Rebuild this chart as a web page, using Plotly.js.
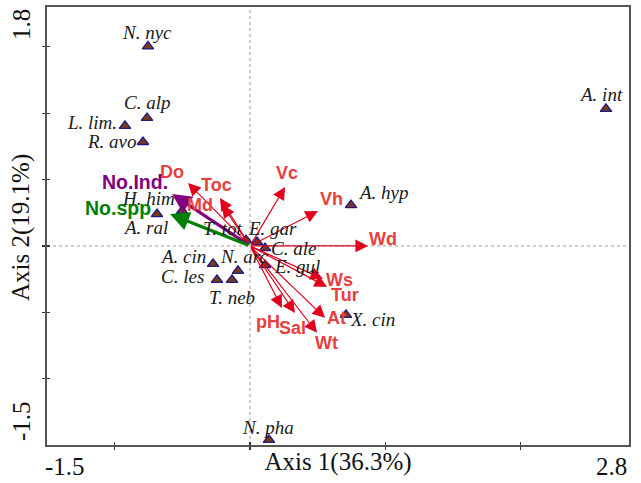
<!DOCTYPE html>
<html>
<head>
<meta charset="utf-8">
<script src="https://cdn.plot.ly/plotly-3.0.1.min.js"></script>
<style>html,body{margin:0;padding:0;background:#fff;}#chart{width:641px;height:483px;}</style>
</head>
<body>
<div id="chart"></div>
<script>
// ---- data ----
const speciesNames = ['N. nyc','C. alp','L. lim.','R. avo','A. int','A. hyp','H. him','A. ral','A. cin','N. arc','C. les','T. neb','T. tot','E. gar','C. ale','E. gul','X. cin','N. pha'];
const speciesX = [-0.754,-0.761,-0.924,-0.791,2.630,0.746,-0.502,-0.687,-0.273,-0.089,-0.244,-0.133,-0.030,0.052,0.111,0.111,0.709,0.140];
const speciesY = [1.503,0.964,0.904,0.783,1.032,0.308,0.263,0.240,-0.135,-0.188,-0.256,-0.256,0.044,0.029,-0.016,-0.144,-0.520,-1.461];

const envNames = ['Vc','Vh','Wd','Ws','Tur','At','Wt','Sal','pH','Do','Toc','Md'];
const envX = [0.259,0.502,0.872,0.539,0.569,0.554,0.495,0.332,0.236,-0.458,-0.222,-0.207];
const envY = [0.444,0.263,0.000,-0.249,-0.309,-0.542,-0.655,-0.505,-0.467,0.474,0.361,0.308];

const indexNames = ['No.Ind.','No.spp'];
const indexX = [-0.576,-0.591];
const indexY = [0.391,0.240];

const xRange = [-1.5, 2.8];
const yRange = [-1.5, 1.8];
const xTickVals = [-1, 0, 1, 2];
const yTickVals = [-1, -0.5, 0, 0.5, 1, 1.5];
const xTitle = 'Axis 1(36.3%)';
const yTitle = 'Axis 2(19.1%)';

// ---- styles (label offsets in pixels) ----
const speciesShift = [[-1,14],[0,15],[-33,3],[-31,0],[-5,14],[33,13],[-34,13],[-12,-13],[-30,7],[6,14],[-35,3],[0,-18],[-23,12],[15,14],[28,0],[32,-1],[27,-5],[-1,12]];
const envShift = [[2,14],[14,12],[15,7],[17,-1],[18,-8],[11,0],[9,-10],[-2,-15],[-14,-14],[-16,11],[-3,13],[-22,0]];
const indexShift = [[-37,12],[-52,6]];
const indexColors = ['#800080','#008000'];
const arrowRed = '#e0001e';
const labelRed = '#e8403e';

const serif = '"Liberation Serif", "Times New Roman", serif';
const sans = '"Liberation Sans", Arial, sans-serif';

const annotations = [];
// environmental arrows
envNames.forEach((n,i)=>{
  annotations.push({x:envX[i], y:envY[i], ax:0, ay:0, xref:'x', yref:'y', axref:'x', ayref:'y',
    text:'', showarrow:true, arrowhead:2, arrowsize:2.1, arrowwidth:1.2, arrowcolor:arrowRed, standoff:0});
});
// index arrows
indexNames.forEach((n,i)=>{
  annotations.push({x:indexX[i], y:indexY[i], ax:0, ay:0, xref:'x', yref:'y', axref:'x', ayref:'y',
    text:'', showarrow:true, arrowhead:2, arrowsize:1.2, arrowwidth:3.2, arrowcolor:indexColors[i], standoff:0});
});
// species labels
speciesNames.forEach((n,i)=>{
  annotations.push({x:speciesX[i], y:speciesY[i], xref:'x', yref:'y', text:'<i>'+n+'</i>', showarrow:false,
    xshift:speciesShift[i][0], yshift:speciesShift[i][1], xanchor:'center', yanchor:'middle',
    font:{family:serif, size:19, color:'#1a1a1a'}});
});
// env labels
envNames.forEach((n,i)=>{
  annotations.push({x:envX[i], y:envY[i], xref:'x', yref:'y', text:'<b>'+n+'</b>', showarrow:false,
    xshift:envShift[i][0], yshift:envShift[i][1], xanchor:'center', yanchor:'middle',
    font:{family:sans, size:18, color:labelRed}});
});
indexNames.forEach((n,i)=>{
  annotations.push({x:indexX[i], y:indexY[i], xref:'x', yref:'y', text:'<b>'+n+'</b>', showarrow:false,
    xshift:indexShift[i][0], yshift:indexShift[i][1], xanchor:'center', yanchor:'middle',
    font:{family:sans, size:19.5, color:indexColors[i]}});
});
// axis end labels
annotations.push({xref:'paper', yref:'paper', x:0, y:0, xanchor:'left', yanchor:'top', yshift:-6, xshift:-4,
  text:String(xRange[0]), showarrow:false, font:{family:serif, size:25, color:'#111'}});
annotations.push({xref:'paper', yref:'paper', x:1, y:0, xanchor:'right', yanchor:'top', yshift:-6,
  text:String(xRange[1]), showarrow:false, font:{family:serif, size:25, color:'#111'}});
annotations.push({xref:'paper', yref:'paper', x:0, y:1, xanchor:'center', yanchor:'middle', xshift:-26, yshift:-18,
  text:String(yRange[1]), textangle:-90, showarrow:false, font:{family:serif, size:25, color:'#111'}});
annotations.push({xref:'paper', yref:'paper', x:0, y:0, xanchor:'center', yanchor:'middle', xshift:-26, yshift:24,
  text:String(yRange[0]), textangle:-90, showarrow:false, font:{family:serif, size:25, color:'#111'}});
// y axis title
annotations.push({xref:'paper', yref:'paper', x:0, y:0.5, xanchor:'center', yanchor:'middle', xshift:-26, yshift:-2,
  text:yTitle, textangle:-90, showarrow:false, font:{family:serif, size:25, color:'#111'}});

const traces = [{
  type:'scatter', mode:'markers', x:speciesX, y:speciesY, text:speciesNames, hoverinfo:'text',
  marker:{symbol:'triangle-up', size:10, color:'#7a3a16', line:{color:'#1c1c8a', width:1.3}},
  showlegend:false, cliponaxis:false
},{
  type:'scatter', mode:'markers', x:[], y:[], xaxis:'x2', yaxis:'y2', showlegend:false, hoverinfo:'skip'
}];

const axisCommon = {showgrid:false, zeroline:false, showline:true, mirror:true, linecolor:'#555', linewidth:1.6,
  ticks:'outside', ticklen:3, tickwidth:1.2, tickcolor:'#333', showticklabels:false, fixedrange:true};

const layout = {
  width:641, height:483,
  margin:{l:47, r:12, t:7, b:38, pad:0},
  paper_bgcolor:'#fff', plot_bgcolor:'#fff',
  xaxis:Object.assign({}, axisCommon, {range:xRange, tickvals:xTickVals,
    title:{text:xTitle, font:{family:serif, size:25, color:'#111'}, standoff:4}}),
  yaxis:Object.assign({}, axisCommon, {range:yRange, tickvals:yTickVals}),
  xaxis2:Object.assign({}, axisCommon, {range:xRange, tickvals:xTickVals, overlaying:'x', anchor:'y2', side:'bottom', ticks:'inside', mirror:false, showline:false}),
  yaxis2:Object.assign({}, axisCommon, {range:yRange, tickvals:yTickVals, overlaying:'y', anchor:'x2', side:'left', ticks:'inside', mirror:false, showline:false}),
  shapes:[
    {type:'line', xref:'x', yref:'paper', x0:0, x1:0, y0:0, y1:1, line:{color:'#9a9a9a', width:1, dash:'dot'}, layer:'below'},
    {type:'line', xref:'paper', yref:'y', x0:0, x1:1, y0:0, y1:0, line:{color:'#9a9a9a', width:1, dash:'dot'}, layer:'below'}
  ],
  annotations:annotations,
  showlegend:false
};

Plotly.newPlot('chart', traces, layout, {displayModeBar:false, staticPlot:true});
</script>
</body>
</html>
